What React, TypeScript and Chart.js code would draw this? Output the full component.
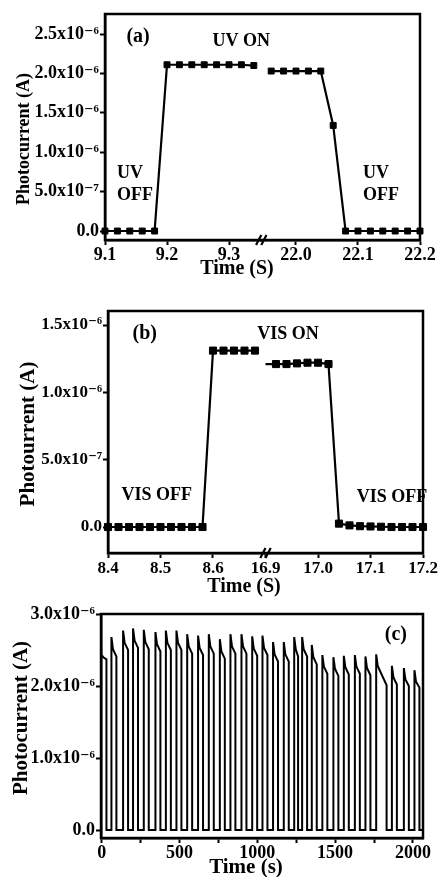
import React, { useEffect, useRef } from 'react';
import { Chart, registerables } from 'chart.js';

Chart.register(...registerables);

const FONT = '"Liberation Serif", "DejaVu Serif", serif';

// ---------------- Panel (a): UV ON/OFF (current in 1e-6 A) ----------------
const aTimeLeft = [9.10, 9.12, 9.14, 9.16, 9.18, 9.20, 9.22, 9.24, 9.26, 9.28, 9.30, 9.32, 9.34];
const aCurrentLeft = [0, 0, 0, 0, 0, 2.11, 2.11, 2.11, 2.11, 2.11, 2.11, 2.11, 2.10];
const aTimeRight = [21.96, 21.98, 22.00, 22.02, 22.04, 22.06, 22.08, 22.10, 22.12, 22.14, 22.16, 22.18, 22.20];
const aCurrentRight = [2.03, 2.03, 2.03, 2.03, 2.03, 1.34, 0, 0, 0, 0, 0, 0, 0];
const aXRangeLeft = [9.1, 9.352];
const aXRangeRight = [21.944, 22.2];
const aXTicksLeft = [9.1, 9.2, 9.3];
const aXLabelsLeft = ['9.1', '9.2', '9.3'];
const aXTicksRight = [22.0, 22.1, 22.2];
const aXLabelsRight = ['22.0', '22.1', '22.2'];
const aYRange = [-0.114, 2.754];
const aYTicks = [0, 0.5, 1.0, 1.5, 2.0, 2.5];
const aYLabels = ['0.0', '5.0x10⁻⁷', '1.0x10⁻⁶', '1.5x10⁻⁶', '2.0x10⁻⁶', '2.5x10⁻⁶'];

// ---------------- Panel (b): VIS ON/OFF ----------------
const bTimeLeft = [8.40, 8.42, 8.44, 8.46, 8.48, 8.50, 8.52, 8.54, 8.56, 8.58, 8.60, 8.62, 8.64, 8.66, 8.68];
const bCurrentLeft = [0, 0, 0, 0, 0, 0, 0, 0, 0, 0, 1.31, 1.31, 1.31, 1.31, 1.31];
const bTimeRight = [16.90, 16.92, 16.94, 16.96, 16.98, 17.00, 17.02, 17.04, 17.06, 17.08, 17.10, 17.12, 17.14, 17.16, 17.18, 17.20];
const bCurrentRight = [1.21, 1.21, 1.21, 1.215, 1.22, 1.22, 1.21, 0.025, 0.012, 0.006, 0.004, 0.002, 0, 0, 0, 0];
const bXRangeLeft = [8.4, 8.7];
const bXRangeRight = [16.9, 17.2];
const bXTicksLeft = [8.4, 8.5, 8.6];
const bXLabelsLeft = ['8.4', '8.5', '8.6'];
const bXTicksRight = [16.9, 17.0, 17.1, 17.2];
const bXLabelsRight = ['16.9', '17.0', '17.1', '17.2'];
const bYRange = [-0.193, 1.604];
const bYTicks = [0, 0.5, 1.0, 1.5];
const bYLabels = ['0.0', '5.0x10⁻⁷', '1.0x10⁻⁶', '1.5x10⁻⁶'];

// ---------------- Panel (c): repeated switching ----------------
const cCycleOn = [0, 62, 137, 201, 270, 345, 412, 480, 549, 619, 688, 759, 827, 898, 967, 1033, 1101, 1170, 1237, 1288, 1350, 1418, 1489, 1556, 1627, 1695, 1764, 1865, 1942, 2010];
const cCycleOff = [30, 94, 169, 233, 302, 377, 444, 512, 581, 651, 720, 791, 859, 930, 999, 1065, 1133, 1202, 1262, 1320, 1382, 1450, 1521, 1588, 1659, 1727, 1831, 1897, 1974, 2042];
const cPeak = [2.43, 2.68, 2.77, 2.80, 2.78, 2.75, 2.77, 2.77, 2.72, 2.70, 2.72, 2.65, 2.72, 2.72, 2.69, 2.70, 2.61, 2.61, 2.68, 2.68, 2.57, 2.43, 2.40, 2.42, 2.43, 2.41, 2.44, 2.28, 2.25, 2.22];
const cKnee = [2.40, 2.51, 2.60, 2.63, 2.61, 2.58, 2.60, 2.60, 2.55, 2.53, 2.55, 2.48, 2.55, 2.55, 2.52, 2.53, 2.44, 2.44, 2.51, 2.51, 2.40, 2.27, 2.24, 2.26, 2.27, 2.25, 2.28, 2.12, 2.09, 2.06];
const cEnd = [2.37, 2.41, 2.50, 2.53, 2.51, 2.48, 2.50, 2.50, 2.45, 2.43, 2.45, 2.38, 2.45, 2.45, 2.42, 2.43, 2.34, 2.34, 2.41, 2.41, 2.30, 2.17, 2.14, 2.16, 2.17, 2.15, 2.01, 2.02, 2.00, 1.98];
const cKneeDelay = 10; // s after switching on
const cTraceEnd = 2062;
const cXRange = [-5, 2065];
const cXTicks = [0, 250, 500, 750, 1000, 1250, 1500, 1750, 2000];
const cXLabels = ['0', '', '500', '', '1000', '', '1500', '', '2000'];
const cYRange = [-0.11, 3.0];
const cYTicks = [0, 1.0, 2.0, 3.0];
const cYLabels = ['0.0', '1.0x10⁻⁶', '2.0x10⁻⁶', '3.0x10⁻⁶'];

function buildCycleTrace() {
  const pts: { x: number; y: number }[] = [];
  cCycleOn.forEach((on, i) => {
    if (i > 0) pts.push({ x: on, y: 0 });
    pts.push({ x: on, y: cPeak[i] });
    pts.push({ x: on + cKneeDelay, y: cKnee[i] });
    pts.push({ x: cCycleOff[i], y: cEnd[i] });
    pts.push({ x: cCycleOff[i], y: 0 });
  });
  pts.push({ x: cTraceEnd, y: 0 });
  return pts;
}

const zip = (xs: number[], ys: number[]) => xs.map((x, i) => ({ x, y: ys[i] }));

type Note = { text: string; axis: string; x: number; y: number; align: CanvasTextAlign; size: number };
type Title = { text: string; x: number; y: number; size: number; rotate?: boolean };

function decorPlugin(notes: Note[], titles: Title[], breakAfter: string | null) {
  return {
    id: 'decor',
    afterDraw(chart: any) {
      const { ctx, chartArea: ca, scales } = chart;
      ctx.save();
      ctx.strokeStyle = '#000';
      ctx.lineWidth = 2.5;
      ctx.strokeRect(ca.left, ca.top, ca.right - ca.left, ca.bottom - ca.top);
      if (breakAfter) {
        const bx = scales[breakAfter].right;
        const by = ca.bottom;
        ctx.lineWidth = 2.2;
        ctx.beginPath();
        for (const dx of [-2.6, 2.6]) {
          ctx.moveTo(bx + dx - 2.6, by + 5);
          ctx.lineTo(bx + dx + 2.6, by - 5);
        }
        ctx.stroke();
      }
      ctx.fillStyle = '#000';
      ctx.textBaseline = 'middle';
      for (const n of notes) {
        ctx.font = `bold ${n.size}px ${FONT}`;
        ctx.textAlign = n.align;
        ctx.fillText(n.text, scales[n.axis].getPixelForValue(n.x), scales.y.getPixelForValue(n.y));
      }
      for (const t of titles) {
        ctx.save();
        ctx.font = `bold ${t.size}px ${FONT}`;
        ctx.textAlign = 'center';
        ctx.translate(t.x, t.y);
        if (t.rotate) ctx.rotate(-Math.PI / 2);
        ctx.fillText(t.text, 0, 0);
        ctx.restore();
      }
      ctx.restore();
    },
  };
}

const gridOpts = { drawOnChartArea: false, drawTicks: true, tickLength: 5, tickWidth: 2, tickColor: '#000' };
const borderOpts = { display: true, color: '#000', width: 2.5 };

function xAxis(range: number[], ticks: number[], labels: string[], size: number, height: number, stacked: boolean) {
  return {
    type: 'linear',
    position: 'bottom',
    ...(stacked ? { stack: 'time', stackWeight: range[1] - range[0] } : {}),
    min: range[0],
    max: range[1],
    afterBuildTicks: (s: any) => { s.ticks = ticks.map((v) => ({ value: v })); },
    afterFit: (s: any) => { s.height = height; },
    ticks: {
      callback: (_v: any, i: number) => labels[i],
      autoSkip: false, maxRotation: 0, minRotation: 0, padding: 0, color: '#000',
      font: { size, weight: 'bold', family: FONT },
    },
    grid: gridOpts,
    border: borderOpts,
  };
}

function yAxis(range: number[], ticks: number[], labels: string[], size: number, width: number) {
  return {
    type: 'linear',
    position: 'left',
    min: range[0],
    max: range[1],
    afterBuildTicks: (s: any) => { s.ticks = ticks.map((v) => ({ value: v })); },
    afterFit: (s: any) => { s.width = width; },
    ticks: {
      callback: (_v: any, i: number) => labels[i],
      autoSkip: false, padding: 1, color: '#000',
      font: { size, weight: 'bold', family: FONT },
    },
    grid: gridOpts,
    border: borderOpts,
  };
}

function baseOptions(padding: any, scales: any) {
  return {
    responsive: false,
    animation: false,
    devicePixelRatio: 1,
    events: [],
    layout: { padding },
    plugins: { legend: { display: false }, tooltip: { enabled: false }, title: { display: false } },
    scales,
  };
}

function lineSet(data: any[], xAxisID: string, radius: any) {
  return {
    data,
    xAxisID,
    yAxisID: 'y',
    borderColor: '#000',
    backgroundColor: '#000',
    borderWidth: 2.2,
    pointStyle: 'rect',
    pointRadius: radius,
    pointBorderWidth: 1,
    pointBorderColor: '#000',
    pointBackgroundColor: '#000',
    tension: 0,
    clip: false,
  };
}

function configA() {
  return {
    type: 'line',
    data: {
      datasets: [
        lineSet(zip(aTimeLeft, aCurrentLeft), 'x1', 4.2),
        lineSet(zip(aTimeRight, aCurrentRight), 'x2', 4.2),
      ],
    },
    options: baseOptions({ top: 14, right: 18, left: 0, bottom: 0 }, {
      x1: xAxis(aXRangeLeft, aXTicksLeft, aXLabelsLeft, 18, 50, true),
      x2: xAxis(aXRangeRight, aXTicksRight, aXLabelsRight, 18, 50, true),
      y: yAxis(aYRange, aYTicks, aYLabels, 18, 105),
    }),
    plugins: [decorPlugin([
      { text: '(a)', axis: 'x1', x: 9.1533, y: 2.462, align: 'center', size: 20 },
      { text: 'UV ON', axis: 'x1', x: 9.3197, y: 2.411, align: 'center', size: 18 },
      { text: 'UV', axis: 'x1', x: 9.1194, y: 0.736, align: 'left', size: 18 },
      { text: 'OFF', axis: 'x1', x: 9.1194, y: 0.457, align: 'left', size: 18 },
      { text: 'UV', axis: 'x2', x: 22.108, y: 0.736, align: 'left', size: 18 },
      { text: 'OFF', axis: 'x2', x: 22.108, y: 0.457, align: 'left', size: 18 },
    ], [
      { text: 'Time (S)', x: 237, y: 269, size: 20 },
      { text: 'Photocurrent (A)', x: 24, y: 139, size: 18, rotate: true },
    ], 'x1')],
  };
}

function configB() {
  return {
    type: 'line',
    data: {
      datasets: [
        lineSet(zip(bTimeLeft, bCurrentLeft), 'x1', 5),
        lineSet(zip(bTimeRight, bCurrentRight), 'x2', (c: any) => (c.dataIndex === 0 ? 0 : 5)),
      ],
    },
    options: baseOptions({ top: 21, right: 15, left: 0, bottom: 0 }, {
      x1: xAxis(bXRangeLeft, bXTicksLeft, bXLabelsLeft, 17, 47, true),
      x2: xAxis(bXRangeRight, bXTicksRight, bXLabelsRight, 17, 47, true),
      y: yAxis(bYRange, bYTicks, bYLabels, 17, 108),
    }),
    plugins: [decorPlugin([
      { text: '(b)', axis: 'x1', x: 8.470, y: 1.433, align: 'center', size: 20 },
      { text: 'VIS ON', axis: 'x2', x: 16.943, y: 1.433, align: 'center', size: 18 },
      { text: 'VIS OFF', axis: 'x1', x: 8.493, y: 0.238, align: 'center', size: 18 },
      { text: 'VIS OFF', axis: 'x2', x: 17.141, y: 0.223, align: 'center', size: 18 },
    ], [
      { text: 'Time (S)', x: 244, y: 297, size: 20 },
      { text: 'Photourrent (A)', x: 29, y: 144, size: 21, rotate: true },
    ], 'x1')],
  };
}

function configC() {
  return {
    type: 'line',
    data: {
      datasets: [
        { ...lineSet(buildCycleTrace(), 'x', 0), borderWidth: 2 },
      ],
    },
    options: baseOptions({ top: 14, right: 15, left: 0, bottom: 0 }, {
      x: xAxis(cXRange, cXTicks, cXLabels, 18, 39, false),
      y: yAxis(cYRange, cYTicks, cYLabels, 18, 101),
    }),
    plugins: [decorPlugin([
      { text: '(c)', axis: 'x', x: 1891, y: 2.71, align: 'center', size: 20 },
    ], [
      { text: 'Time (s)', x: 246, y: 268, size: 21 },
      { text: 'Photocurrent (A)', x: 22, y: 118, size: 21, rotate: true },
    ], null)],
  };
}

function Panel({ make, top, height }: { make: () => any; top: number; height: number }) {
  const ref = useRef<HTMLCanvasElement>(null);
  useEffect(() => {
    const chart = new Chart(ref.current as HTMLCanvasElement, make());
    return () => chart.destroy();
  }, []);
  return (
    <canvas
      ref={ref}
      width={438}
      height={height}
      style={{ position: 'absolute', left: 0, top, width: 438, height, display: 'block' }}
    />
  );
}

export default function App() {
  return (
    <div style={{ position: 'absolute', left: 0, top: 0, width: 438, height: 877, background: '#fff', overflow: 'hidden' }}>
      <Panel make={configA} top={0} height={290} />
      <Panel make={configB} top={290} height={310} />
      <Panel make={configC} top={600} height={277} />
    </div>
  );
}
